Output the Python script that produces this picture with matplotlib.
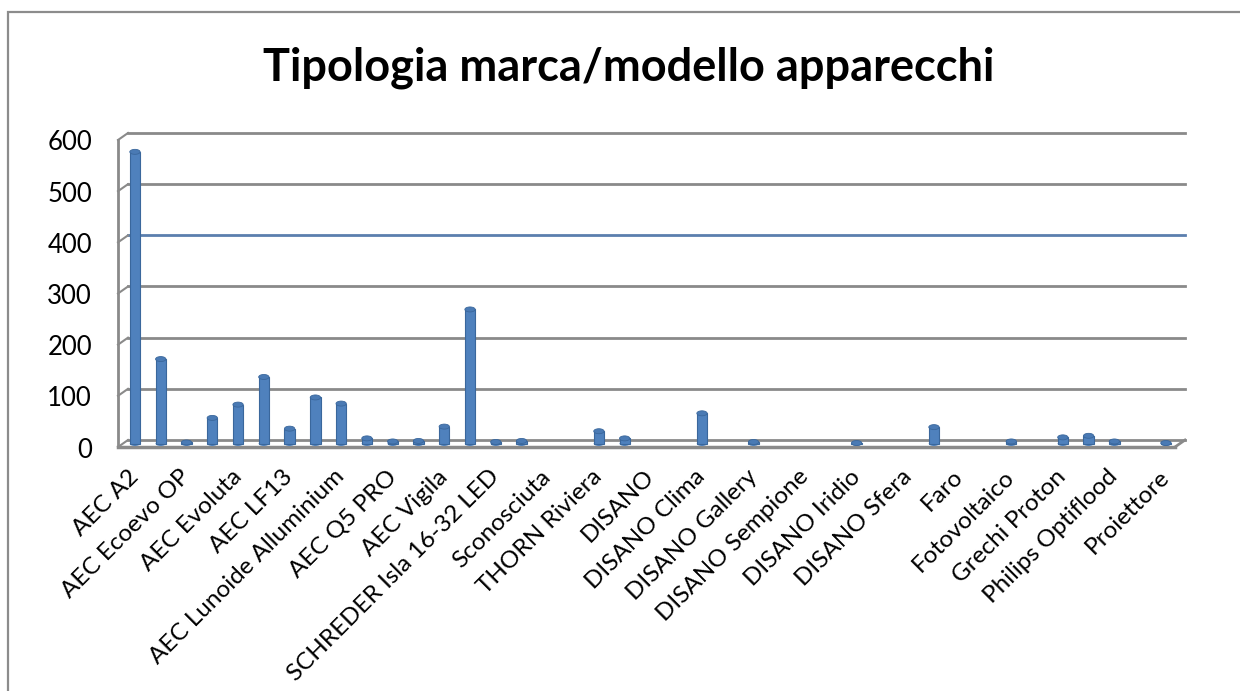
import matplotlib
matplotlib.use("Agg")
from matplotlib import pyplot as plt
from matplotlib.patches import Ellipse, Rectangle

plt.rcParams['font.family'] = ['Lato', 'DejaVu Sans']

# 41 categories, only every other name is shown on the axis
shown_labels = ["AEC A2", "AEC Ecoevo OP", "AEC Evoluta", "AEC LF13",
                "AEC Lunoide Alluminium", "AEC Q5 PRO", "AEC Vigila",
                "SCHREDER Isla 16-32 LED", "Sconosciuta", "THORN Riviera",
                "DISANO", "DISANO Clima", "DISANO Gallery", "DISANO Sempione",
                "DISANO Iridio", "DISANO Sfera", "Faro", "Fotovoltaico",
                "Grechi Proton", "Philips Optiflood", "Proiettore"]
counts = [570, 165, 2, 50, 76, 130, 29, 90, 78, 10,
          4, 5, 33, 262, 3, 5, 0, 0, 24, 10,
          0, 0, 59, 0, 3, 0, 0, 0, 1, 0,
          0, 32, 0, 0, 4, 0, 12, 15, 4, 0,
          1]
yticks = [0, 100, 200, 300, 400, 500, 600]

W, H = 1240, 691
fig = plt.figure(figsize=(W / 100, H / 100), dpi=100)
fig.patch.set_facecolor("white")

# outer chart border
fig.patches.append(Rectangle((8 / W, -0.05), 1.2, (H - 12) / H + 0.05,
                             transform=fig.transFigure, fill=False,
                             edgecolor="#8c8c8c", linewidth=1.6))

left, right, top, bottom = 128, 1185, 133, 440
ax = fig.add_axes([left / W, 1 - bottom / H, (right - left) / W, (bottom - top) / H])
xmin, xmax = -0.27, 40.74
ax.set_xlim(xmin, xmax)
ax.set_ylim(0, 600)
for s in ax.spines.values():
    s.set_visible(False)

# pixel sizes in data units, for the fake 3d depth
px_x = (xmax - xmin) / (right - left)
px_y = 600 / (bottom - top)
dx, dy = -10 * px_x, -7 * px_y

grid_col = "#8a8a8a"
for v in yticks:
    c = "#5b7fae" if v == 400 else grid_col
    ax.plot([xmin, xmax], [v, v], color=c, lw=2, clip_on=False, zorder=1)
    ax.plot([xmin, xmin + dx], [v, v + dy], color=grid_col, lw=1.5, clip_on=False, zorder=1)
    ax.text(xmin + dx - 26 * px_x, v + dy - 3 * px_y, str(v), ha="right", va="center",
            fontsize=18.5)
# left wall front edge and floor
ax.plot([xmin + dx, xmin + dx], [dy, 600 + dy], color=grid_col, lw=2, clip_on=False, zorder=1)
ax.plot([xmin + dx, xmax + dx], [dy, dy], color=grid_col, lw=2.5, clip_on=False, zorder=1)
ax.plot([xmax, xmax + dx], [0, dy], color=grid_col, lw=2, clip_on=False, zorder=1)

# bars as thin cylinders, empty categories draw nothing
xs = list(range(len(counts)))
bw = 0.4
ax.bar(xs, counts, width=bw, bottom=dy / 2, color="#4f81bd", edgecolor="#3a679c",
       linewidth=[0.8 if v > 0 else 0 for v in counts], zorder=3, clip_on=False)
for x, v in zip(xs, counts):
    if v > 0:
        ax.add_patch(Ellipse((x, v + dy / 2), bw, 5 * px_y, facecolor="#4a7ab4",
                             edgecolor="#3a679c", lw=0.6, zorder=4, clip_on=False))
        ax.add_patch(Ellipse((x, dy / 2), bw, 5 * px_y, facecolor="#4f81bd",
                             edgecolor="none", zorder=2, clip_on=False))

ax.set_yticks([])
ax.set_xticks(xs[::2])
ax.set_xticklabels(shown_labels, rotation=45, ha="right", va="center",
                   rotation_mode="anchor", fontsize=17.5)
ax.tick_params(axis="x", length=0, pad=24)

fig.text(629 / W, 1 - 68 / H, "Tipologia marca/modello apparecchi", ha="center",
         va="center", fontsize=32.5, fontweight="bold")

fig.savefig("out.png", dpi=100)
